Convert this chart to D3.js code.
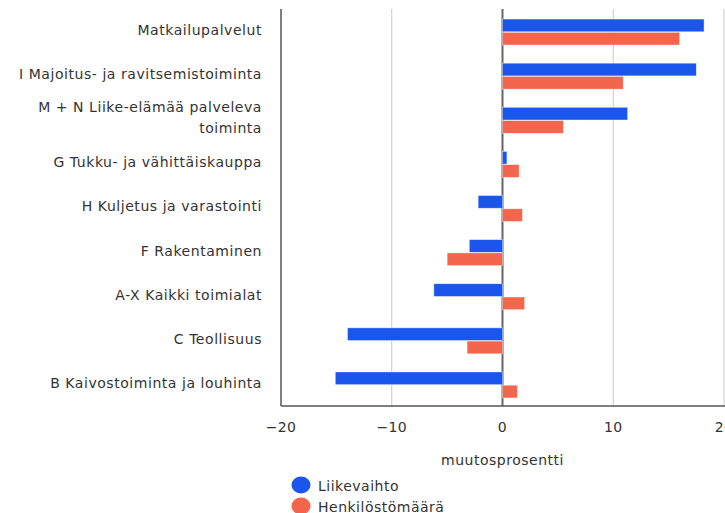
<!DOCTYPE html>
<meta charset="utf-8">
<style>
body { margin: 0; background: #fff; }
text { font-family: "DejaVu Sans", Verdana, sans-serif; fill: #333; }
</style>
<body>
<script src="https://d3js.org/d3.v7.min.js"></script>
<script>

// data
var categories = [
  "Matkailupalvelut",
  "I Majoitus- ja ravitsemistoiminta",
  "M + N Liike-elämää palveleva toiminta",
  "G Tukku- ja vähittäiskauppa",
  "H Kuljetus ja varastointi",
  "F Rakentaminen",
  "A-X Kaikki toimialat",
  "C Teollisuus",
  "B Kaivostoiminta ja louhinta"
];
var liikevaihto    = [18.2, 17.5, 11.3, 0.4, -2.2, -3.0, -6.2, -14.0, -15.1];
var henkilosto     = [16.0, 10.9, 5.5, 1.5, 1.8, -5.0, 2.0, -3.2, 1.35];
var seriesNames    = ["Liikevaihto", "Henkilöstömäärä"];
var colors         = ["#1a56eb", "#f4654e"];
var xTicks         = [-20, -10, 0, 10, 20];

var margin = {top: 9, right: 0, bottom: 107, left: 281},
    width = 725 - margin.left - margin.right,
    height = 513 - margin.top - margin.bottom;

var svg = d3.select("body").append("svg")
    .attr("width", 725)
    .attr("height", 513)
  .append("g")
    .attr("transform", "translate(" + margin.left + "," + margin.top + ")");

var x = d3.scaleLinear().domain([-20, 20]).range([0, 443]);
var y = d3.scaleBand().domain(categories).range([0, height]);
var y1 = d3.scaleBand().domain(seriesNames).range([0, 26]).paddingInner(0.04);

// grid
svg.selectAll(".grid")
    .data(xTicks.filter(function(d) { return d != 0 && d != -20; }))
  .enter().append("line")
    .attr("x1", function(d) { return x(d); })
    .attr("x2", function(d) { return x(d); })
    .attr("y1", 0)
    .attr("y2", height)
    .attr("stroke", "#c8c8c8")
    .attr("stroke-width", 1);

// zero line
svg.append("line")
    .attr("x1", x(0)).attr("x2", x(0))
    .attr("y1", 0).attr("y2", height)
    .attr("stroke", "#666")
    .attr("stroke-width", 2);

// bars
var rows = categories.map(function(c, i) {
  return {name: c, values: [liikevaihto[i], henkilosto[i]]};
});

var groups = svg.selectAll(".row")
    .data(rows)
  .enter().append("g")
    .attr("transform", function(d) {
      return "translate(0," + (y(d.name) + y.bandwidth() / 2 - 13 + 1) + ")";
    });

groups.selectAll("rect")
    .data(function(d) { return d.values.map(function(v, j) { return {s: seriesNames[j], v: v, j: j}; }); })
  .enter().append("rect")
    .attr("x", function(d) { return x(Math.min(0, d.v)); })
    .attr("width", function(d) { return Math.abs(x(d.v) - x(0)); })
    .attr("y", function(d) { return y1(d.s); })
    .attr("height", y1.bandwidth())
    .attr("fill", function(d) { return colors[d.j]; })
    .attr("stroke", "#fff")
    .attr("stroke-opacity", 0.6)
    .attr("stroke-width", 0.7);

// left axis line
svg.append("line")
    .attr("x1", 0).attr("x2", 0)
    .attr("y1", 0).attr("y2", height)
    .attr("stroke", "#555")
    .attr("stroke-width", 1.5);

// bottom axis
svg.append("line")
    .attr("x1", 0).attr("x2", width)
    .attr("y1", height).attr("y2", height)
    .attr("stroke", "#555")
    .attr("stroke-width", 1.5);

svg.selectAll(".xtick")
    .data(xTicks)
  .enter().append("text")
    .attr("x", function(d) { return x(d); })
    .attr("y", height + 26)
    .attr("text-anchor", "middle")
    .style("font-size", "14px")
    .style("letter-spacing", "0.4px")
    .text(function(d) { return d < 0 ? "\u2212" + Math.abs(d) : d; });

svg.append("text")
    .attr("x", x(0))
    .attr("y", height + 59)
    .attr("text-anchor", "middle")
    .style("font-size", "14px")
    .style("letter-spacing", "0.5px")
    .text("muutosprosentti");

// category labels
var labels = svg.selectAll(".ylab")
    .data(categories)
  .enter().append("text")
    .attr("x", -19)
    .attr("y", function(d) { return y(d) + y.bandwidth() / 2 - 1; })
    .attr("text-anchor", "end")
    .style("font-size", "14px")
    .style("letter-spacing", "0.55px");

labels.each(function(d) {
  var t = d3.select(this);
  if (d.indexOf("M + N") == 0) {
    t.append("tspan").attr("x", -19).attr("dy", "-0.45em").text("M + N Liike-elämää palveleva");
    t.append("tspan").attr("x", -19).attr("dy", "1.5em").text("toiminta");
  } else {
    t.attr("dy", "0.35em").text(d);
  }
});

// legend
var legend = svg.selectAll(".legend")
    .data(seriesNames)
  .enter().append("g")
    .attr("transform", function(d, i) { return "translate(20," + (height + 79 + i * 21) + ")"; });

legend.append("ellipse")
    .attr("rx", 9.5).attr("ry", 8.5)
    .attr("fill", function(d, i) { return colors[i]; });

legend.append("text")
    .attr("x", 17)
    .attr("dy", "0.4em")
    .style("font-size", "14px")
    .style("letter-spacing", "0.5px")
    .text(function(d) { return d; });

</script>
</body>
